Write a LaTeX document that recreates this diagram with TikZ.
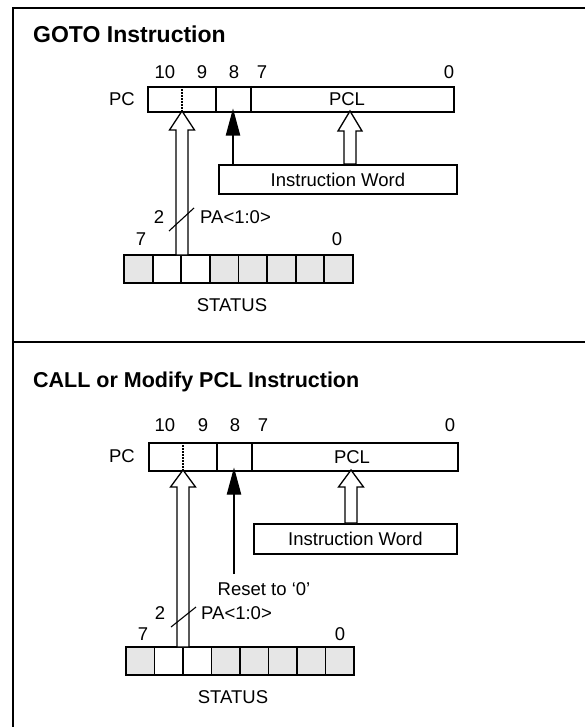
\documentclass[tikz,border=0pt]{standalone}
\usepackage{fontspec}
\setmainfont{Liberation Sans}
\newcommand{\hollowarrow}[7]{% tipx tipy headbase half shaftL shaftR bottom
  \draw[hollow] (#5,#7) -- (#5,#3) -- ({#1-#4},#3) -- (#1,#2) -- ({#1+#4},#3) -- (#6,#3) -- (#6,#7) -- cycle;}
\newcommand{\statusreg}[4]{% x y w h
  \foreach \i in {0,...,7}{
    \ifnum\i=1 \def\fc{white}\else\ifnum\i=2 \def\fc{white}\else\def\fc{cellgray}\fi\fi
    \draw[line width=1.8pt, fill=\fc] ({#1+\i*#3/8},#2) rectangle ({#1+(\i+1)*#3/8},{#2+#4});
  }}
\definecolor{cellgray}{HTML}{E6E6E6}
\begin{document}
\begin{tikzpicture}[x=1pt,y=-1pt,
  lbl/.style={font=\fontsize{18.5}{20}\selectfont, inner sep=0pt},
  ttl/.style={inner sep=0pt, anchor=west},
  reg/.style={draw, line width=1.8pt, inner sep=0pt, anchor=north west},
  hollow/.style={draw, line width=1.3pt, fill=white, line join=miter},
  solidtip/.style={draw, line width=1.3pt, fill=black},
  dotline/.style={line width=2pt, dash pattern=on 1.6pt off 1.4pt}]
\useasboundingbox (0,0) rectangle (585,727);
% frame
\draw[line width=2.6pt] (13,727) -- (13,8) -- (585,8);
\draw[line width=2.6pt] (13,342) -- (585,342);

% ================= GOTO =================
\node[ttl, font=\fontsize{23}{25}\selectfont\bfseries] (t1) at (33,34) {GOTO Instruction};
\node[reg, minimum width=306pt, minimum height=25pt] (pc1) at (147,86) {};
\draw[line width=1.8pt] (216,86) -- (216,111) (251,86) -- (251,111);
\draw[dotline] (182,86) -- (182,111);
\node[lbl] (pcl1) at (122,99) {PC};
\node[lbl] at (347,99) {PCL};
\node[lbl] at (165,72) {10};
\node[lbl] at (202,72) {9};
\node[lbl] at (234,72) {8};
\node[lbl] at (262,72) {7};
\node[lbl] at (449,72) {0};
\node[reg, minimum width=238pt, minimum height=29pt] (iw1) at (218,164) {};
\node[lbl] at (iw1.center) {Instruction Word};
\statusreg{124}{255}{229}{28}
\node[lbl] (st1) at (232,305) {STATUS};
\node[lbl] at (141,239) {7};
\node[lbl] at (337,239) {0};
\hollowarrow{182}{111}{130}{12.5}{176}{188}{255}
\hollowarrow{350}{111}{131}{12}{344}{356}{164}
\coordinate (f1tip) at (233,111);
\coordinate (f1base) at (233,164);
\draw[line width=1.6pt] (f1base) -- (233,134);
\draw[solidtip] (f1tip) -- (239.5,135) -- (226.5,135) -- cycle;
\node[lbl] at (159,217) {2};
\draw[line width=1.1pt] (169,231) -- (194,208);
\node[lbl, anchor=west] at (200,217) {PA<1:0>};

% ================= CALL =================
\node[ttl, font=\fontsize{21.5}{24}\selectfont\bfseries] (t2) at (33,382) {CALL or Modify PCL Instruction};
\node[reg, minimum width=309pt, minimum height=28pt] (pc2) at (148,442) {};
\draw[line width=1.8pt] (217,442) -- (217,470) (252,442) -- (252,470);
\draw[dotline] (183,442) -- (183,470);
\node[lbl] at (122,456) {PC};
\node[lbl] at (352,457) {PCL};
\node[lbl] at (165,425) {10};
\node[lbl] at (203,425) {9};
\node[lbl] at (235,425) {8};
\node[lbl] at (263,425) {7};
\node[lbl] at (450,425) {0};
\node[reg, minimum width=203pt, minimum height=30pt] (iw2) at (253,523) {};
\node[lbl] at (iw2.center) {Instruction Word};
\statusreg{126}{647}{228}{28}
\node[lbl] (st2) at (233,697) {STATUS};
\node[lbl] at (143,634) {7};
\node[lbl] at (340,634) {0};
\hollowarrow{183}{470}{487}{12.5}{177}{189}{647}
\hollowarrow{351}{470}{487}{12.5}{345}{357}{523}
\coordinate (f2tip) at (234,470);
\coordinate (f2base) at (234,574);
\draw[line width=1.6pt] (f2base) -- (234,493);
\draw[solidtip] (f2tip) -- (240.5,494) -- (227.5,494) -- cycle;
\node[lbl] at (264,589) {Reset to ‘0’};
\node[lbl] at (160,613) {2};
\draw[line width=1.1pt] (171,627) -- (196,607);
\node[lbl, anchor=west] at (201,613) {PA<1:0>};
\end{tikzpicture}
\end{document}
